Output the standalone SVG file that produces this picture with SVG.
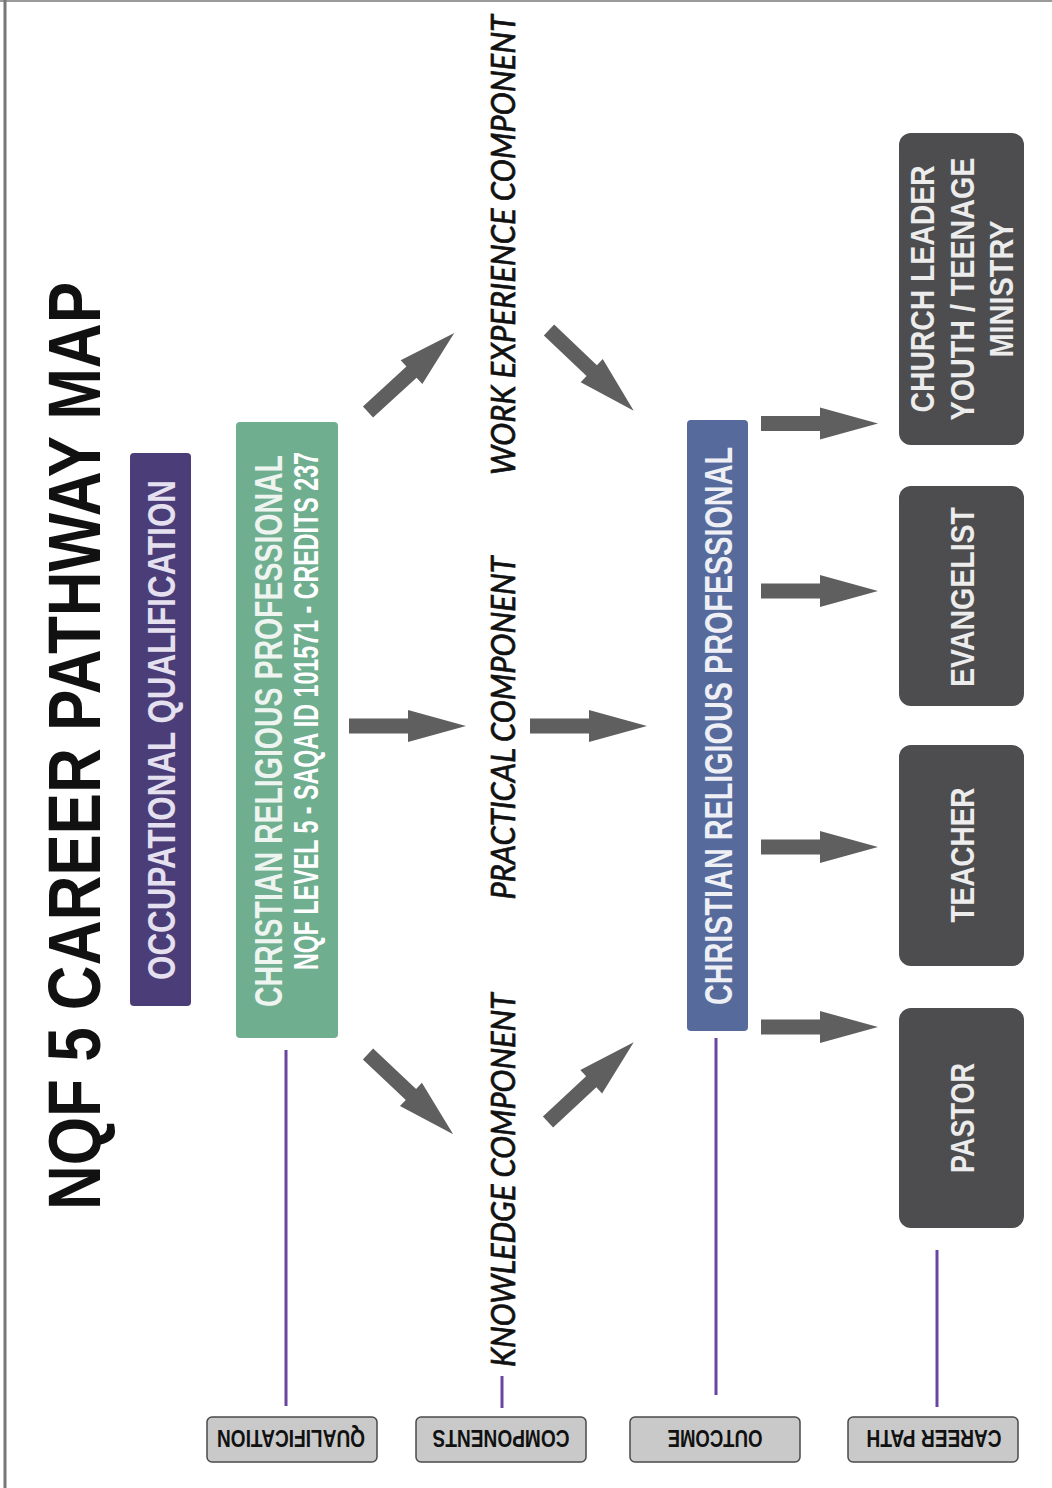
<svg xmlns="http://www.w3.org/2000/svg" width="1052" height="1488" viewBox="0 0 1052 1488">
  <style>
    .cond { font-family: "Liberation Sans Narrow", "Liberation Sans", Arial, sans-serif; font-weight: bold; }
    .ital { font-family: Lato, "Open Sans", "Liberation Sans", sans-serif; font-style: italic; font-size: 32px; fill: #111; stroke: #111; stroke-width: 0.7; }
    .box-text { font-size: 38px; text-anchor: middle; }
    .career { fill: #4d4d4f; }
    .career-text { font-size: 33px; fill: #ececec; text-anchor: middle; }
    .label-box { fill: #c8c9c8; stroke: #4a4a4a; stroke-width: 1.5; }
    .label-text { font-size: 24px; fill: #111; text-anchor: middle; }
    .vline { stroke: #6a45a0; stroke-width: 3; fill: none; }
    .arrow { fill: #5f5f5f; }
  </style>
  <defs>
    <path id="blockArrow" d="M0,-7.5 L59,-7.5 L59,-16 L117,0 L59,16 L59,7.5 L0,7.5 Z"/>
  </defs>

  <rect x="0" y="0" width="1052" height="1488" fill="#ffffff"/>
  <g id="frame">
    <line x1="0" y1="1" x2="1052" y2="1" stroke="#9a9a9a" stroke-width="2"/>
    <line x1="5" y1="0" x2="5" y2="1488" stroke="#777" stroke-width="3"/>
  </g>

  <g id="title">
    <text class="cond" font-size="74" fill="#111" text-anchor="middle" textLength="928" lengthAdjust="spacingAndGlyphs" transform="translate(100,746) rotate(-90)">NQF 5 CAREER PATHWAY MAP</text>
  </g>

  <g id="node-occupational">
    <rect x="130" y="453" width="61" height="553" rx="4" fill="#4b3d78"/>
    <text class="cond box-text" fill="#e4e0ef" textLength="500" lengthAdjust="spacingAndGlyphs" transform="translate(175,730) rotate(-90)">OCCUPATIONAL QUALIFICATION</text>
  </g>

  <g id="node-qualification">
    <rect x="236" y="422" width="102" height="616" rx="4" fill="#6fae8f"/>
    <text class="cond box-text" fill="#eef4f0" textLength="552" lengthAdjust="spacingAndGlyphs" transform="translate(282,731) rotate(-90)">CHRISTIAN RELIGIOUS PROFESSIONAL</text>
    <text class="cond" font-size="35" fill="#ffffff" text-anchor="middle" textLength="518" lengthAdjust="spacingAndGlyphs" transform="translate(318,711) rotate(-90)">NQF LEVEL 5 - SAQA ID 101571 - CREDITS 237</text>
  </g>

  <g id="node-work">
    <text class="ital" text-anchor="middle" textLength="460" lengthAdjust="spacingAndGlyphs" transform="translate(515,245) rotate(-90)">WORK EXPERIENCE COMPONENT</text>
  </g>
  <g id="node-practical">
    <text class="ital" text-anchor="middle" textLength="343" lengthAdjust="spacingAndGlyphs" transform="translate(515,728) rotate(-90)">PRACTICAL COMPONENT</text>
  </g>
  <g id="node-knowledge">
    <text class="ital" text-anchor="middle" textLength="374" lengthAdjust="spacingAndGlyphs" transform="translate(515,1180) rotate(-90)">KNOWLEDGE COMPONENT</text>
  </g>

  <g id="node-outcome">
    <rect x="687" y="420" width="61" height="611" rx="4" fill="#566a9b"/>
    <text class="cond box-text" fill="#eef0f6" textLength="558" lengthAdjust="spacingAndGlyphs" transform="translate(732,726) rotate(-90)">CHRISTIAN RELIGIOUS PROFESSIONAL</text>
  </g>

  <g id="node-church-leader">
    <rect class="career" x="899" y="133" width="125" height="312" rx="12"/>
    <text class="cond career-text" textLength="247" lengthAdjust="spacingAndGlyphs" transform="translate(934,289) rotate(-90)">CHURCH LEADER</text>
    <text class="cond career-text" textLength="263" lengthAdjust="spacingAndGlyphs" transform="translate(974,289) rotate(-90)">YOUTH / TEENAGE</text>
    <text class="cond career-text" textLength="137" lengthAdjust="spacingAndGlyphs" transform="translate(1013,289) rotate(-90)">MINISTRY</text>
  </g>
  <g id="node-evangelist">
    <rect class="career" x="899" y="486" width="125" height="220" rx="12"/>
    <text class="cond career-text" textLength="180" lengthAdjust="spacingAndGlyphs" transform="translate(974,597) rotate(-90)">EVANGELIST</text>
  </g>
  <g id="node-teacher">
    <rect class="career" x="899" y="745" width="125" height="221" rx="12"/>
    <text class="cond career-text" textLength="135" lengthAdjust="spacingAndGlyphs" transform="translate(974,855) rotate(-90)">TEACHER</text>
  </g>
  <g id="node-pastor">
    <rect class="career" x="899" y="1008" width="125" height="220" rx="12"/>
    <text class="cond career-text" textLength="110" lengthAdjust="spacingAndGlyphs" transform="translate(974,1118) rotate(-90)">PASTOR</text>
  </g>

  <g id="label-qualification">
    <rect class="label-box" x="207" y="1417" width="170" height="45" rx="5"/>
    <text class="cond label-text" textLength="148" lengthAdjust="spacingAndGlyphs" transform="translate(291,1430) rotate(180)">QUALIFICATION</text>
  </g>
  <g id="label-components">
    <rect class="label-box" x="416" y="1417" width="170" height="45" rx="5"/>
    <text class="cond label-text" textLength="137" lengthAdjust="spacingAndGlyphs" transform="translate(501,1430) rotate(180)">COMPONENTS</text>
  </g>
  <g id="label-outcome">
    <rect class="label-box" x="630" y="1417" width="170" height="45" rx="5"/>
    <text class="cond label-text" textLength="95" lengthAdjust="spacingAndGlyphs" transform="translate(715,1430) rotate(180)">OUTCOME</text>
  </g>
  <g id="label-career-path">
    <rect class="label-box" x="848" y="1417" width="170" height="45" rx="5"/>
    <text class="cond label-text" textLength="135" lengthAdjust="spacingAndGlyphs" transform="translate(934,1430) rotate(180)">CAREER PATH</text>
  </g>

  <g id="connectors">
    <line class="vline" x1="286" y1="1050" x2="286" y2="1406"/>
    <line class="vline" x1="502" y1="1376" x2="502" y2="1408"/>
    <line class="vline" x1="716" y1="1038" x2="716" y2="1395"/>
    <line class="vline" x1="937" y1="1250" x2="937" y2="1407"/>

    <use href="#blockArrow" class="arrow" transform="translate(368,412) rotate(-42.5)"/>
    <use href="#blockArrow" class="arrow" transform="translate(549,330) rotate(43.6)"/>
    <use href="#blockArrow" class="arrow" transform="translate(349,726)"/>
    <use href="#blockArrow" class="arrow" transform="translate(530,726)"/>
    <use href="#blockArrow" class="arrow" transform="translate(368,1054) rotate(43.3)"/>
    <use href="#blockArrow" class="arrow" transform="translate(548,1122) rotate(-42.9)"/>

    <use href="#blockArrow" class="arrow" transform="translate(761,423.5)"/>
    <use href="#blockArrow" class="arrow" transform="translate(761,591)"/>
    <use href="#blockArrow" class="arrow" transform="translate(761,847)"/>
    <use href="#blockArrow" class="arrow" transform="translate(761,1027)"/>
  </g>
</svg>
